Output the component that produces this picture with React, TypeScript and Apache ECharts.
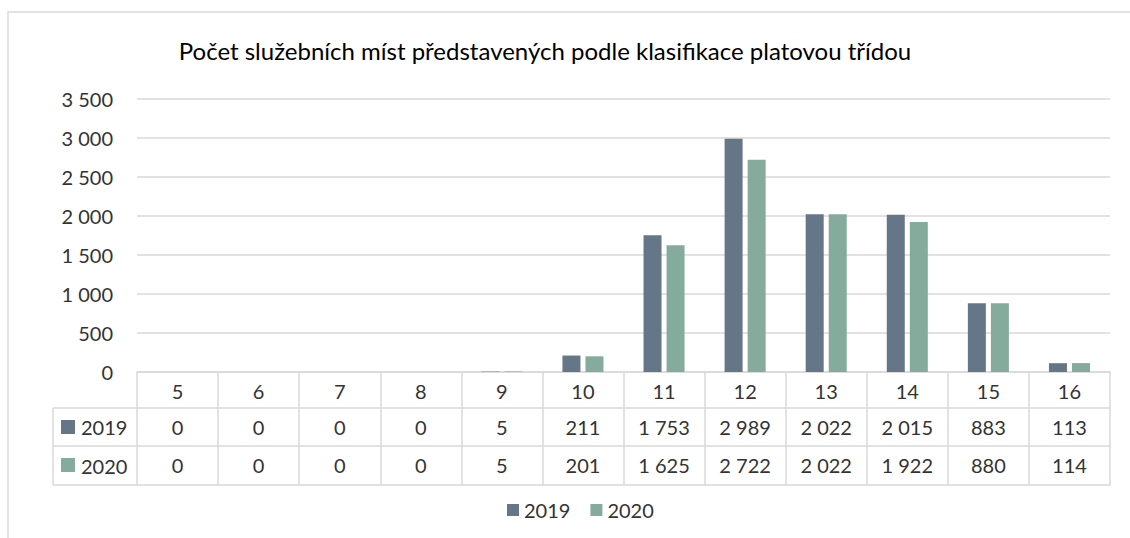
import React, { useEffect, useRef } from "react";
import * as echarts from "echarts";

const categories = ["5", "6", "7", "8", "9", "10", "11", "12", "13", "14", "15", "16"];
const seriesNames = ["2019", "2020"];
const values2019 = [0, 0, 0, 0, 5, 211, 1753, 2989, 2022, 2015, 883, 113];
const values2020 = [0, 0, 0, 0, 5, 201, 1625, 2722, 2022, 1922, 880, 114];
const colors = ["#667689", "#84ab9b"];
const titleText = "Počet služebních míst představených podle klasifikace platovou třídou";

const fmt = (v: number) => String(v).replace(/\B(?=(\d{3})+(?!\d))/g, " ");

const FONT = "Lato";
const LINE = "#d9d9d9";
const TXT = "#333333";

export default function App() {
  const ref = useRef<HTMLDivElement>(null);
  useEffect(() => {
    if (!ref.current) return;
    const chart = echarts.init(ref.current, undefined, { renderer: "svg" });
    const tableAxis = (offset: number, tickLen: number, labels: ((i: number) => string) | null, showTick = true) => ({
      type: "category",
      data: categories,
      gridIndex: 0,
      position: "bottom",
      offset,
      boundaryGap: true,
      axisLine: { show: true, lineStyle: { color: LINE, width: 1.5 } },
      axisTick: { show: showTick, length: tickLen, inside: false, alignWithLabel: false, lineStyle: { color: LINE, width: 1.5 } },
      axisLabel: labels
        ? {
            show: true,
            interval: 0,
            margin: 9,
            fontSize: 20,
            fontFamily: FONT,
            color: TXT,
            formatter: (_v: string, i: number) => labels(i),
          }
        : { show: false },
      splitLine: { show: false },
    });
    chart.setOption({
      animation: false,
      textStyle: { fontFamily: FONT },
      title: {
        text: titleText,
        left: 540,
        top: 33,
        textAlign: "center",
        textStyle: { fontSize: 24, fontWeight: "normal", color: "#000", fontFamily: FONT },
      },
      legend: {
        data: seriesNames,
        left: 502,
        top: 495,
        itemWidth: 12,
        itemHeight: 12,
        itemGap: 20,
        icon: "rect",
        textStyle: { fontSize: 20, color: TXT, fontFamily: FONT },
      },
      grid: { left: 137, right: 20, top: 99, bottom: 166, containLabel: false },
      xAxis: [
        tableAxis(0, 36, (i) => categories[i]),
        tableAxis(36, 38, (i) => fmt(values2019[i])),
        tableAxis(74, 39, (i) => fmt(values2020[i])),
        tableAxis(113, 0, null, false),
      ],
      yAxis: {
        type: "value",
        min: 0,
        max: 3500,
        interval: 500,
        axisLine: { show: false },
        axisTick: { show: false },
        axisLabel: { fontSize: 20, color: TXT, fontFamily: FONT, margin: 24, formatter: (v: number) => fmt(v) },
        splitLine: { lineStyle: { color: LINE, width: 1.5 } },
      },
      series: [
        { name: seriesNames[0], type: "bar", data: values2019, xAxisIndex: 0, barWidth: 18, barGap: "28%", itemStyle: { color: colors[0] } },
        { name: seriesNames[1], type: "bar", data: values2020, xAxisIndex: 0, barWidth: 18, barGap: "28%", itemStyle: { color: colors[1] } },
      ],
      graphic: [
        { type: "rect", shape: { x: 8, y: 12, width: 1300, height: 700 }, style: { fill: "none", stroke: LINE, lineWidth: 1.5 }, silent: true },
        { type: "line", shape: { x1: 53, y1: 408, x2: 137, y2: 408 }, style: { stroke: LINE, lineWidth: 1.5 } },
        { type: "line", shape: { x1: 53, y1: 446, x2: 137, y2: 446 }, style: { stroke: LINE, lineWidth: 1.5 } },
        { type: "line", shape: { x1: 53, y1: 485, x2: 137, y2: 485 }, style: { stroke: LINE, lineWidth: 1.5 } },
        { type: "line", shape: { x1: 53, y1: 408, x2: 53, y2: 485 }, style: { stroke: LINE, lineWidth: 1.5 } },
        { type: "rect", shape: { x: 61, y: 420, width: 14, height: 14 }, style: { fill: colors[0] } },
        { type: "rect", shape: { x: 61, y: 458, width: 14, height: 14 }, style: { fill: colors[1] } },
        { type: "text", x: 81, y: 427, style: { text: seriesNames[0], fontSize: 20, fontFamily: FONT, fill: TXT, verticalAlign: "middle" } },
        { type: "text", x: 81, y: 466, style: { text: seriesNames[1], fontSize: 20, fontFamily: FONT, fill: TXT, verticalAlign: "middle" } },
      ],
    });
    return () => chart.dispose();
  }, []);
  return <div ref={ref} style={{ position: "fixed", left: 0, top: 0, width: 1130, height: 538, background: "#fff" }} />;
}
